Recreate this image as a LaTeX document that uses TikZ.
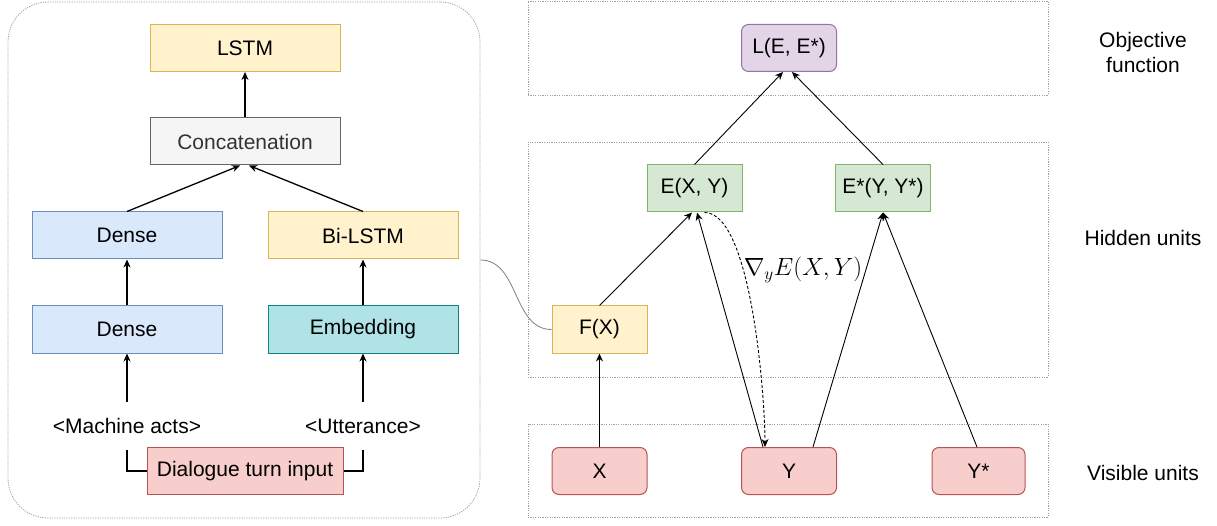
\documentclass[tikz,border=0pt]{standalone}
\usepackage[no-math]{fontspec}
\setmainfont{Liberation Sans}
\usetikzlibrary{arrows.meta}
\definecolor{yelfill}{HTML}{FFF2CC}
\definecolor{yelline}{HTML}{D6B656}
\definecolor{bluefill}{HTML}{DAE8FC}
\definecolor{blueline}{HTML}{6C8EBF}
\definecolor{greyfill}{HTML}{F5F5F5}
\definecolor{greyline}{HTML}{666666}
\definecolor{tealfill}{HTML}{B0E3E6}
\definecolor{tealline}{HTML}{0E8088}
\definecolor{redfill}{HTML}{F8CECC}
\definecolor{redline}{HTML}{B85450}
\definecolor{greenfill}{HTML}{D5E8D4}
\definecolor{greenline}{HTML}{82B366}
\definecolor{purpfill}{HTML}{E1D5E7}
\definecolor{purpline}{HTML}{9673A6}
\begin{document}
\begin{tikzpicture}[x=1pt, y=-1pt,
				>={Stealth[length=8pt,width=7pt]},   %Pfeilspitzen
				font=\fontsize{21}{25}\selectfont,
				layer/.style={draw, line width=1pt, minimum width=190pt, minimum height=47pt, inner sep=0pt},
				unit/.style={draw, line width=1pt, minimum width=95pt, minimum height=47pt, inner sep=0pt},
				panel/.style={draw=gray!75, line width=0.8pt, dash pattern=on 1.2pt off 1.2pt, inner sep=0pt},
				yel/.style={fill=yelfill, draw=yelline},
				blu/.style={fill=bluefill, draw=blueline},
				gry/.style={fill=greyfill, draw=greyline, text=black!80},
				tea/.style={fill=tealfill, draw=tealline},
				rd/.style={fill=redfill, draw=redline},
				grn/.style={fill=greenfill, draw=greenline},
				prp/.style={fill=purpfill, draw=purpline},
				thick link/.style={->, line width=1.3pt},
				thin link/.style={->, line width=0.9pt}]
				\useasboundingbox (0,0) rectangle (1217,526);
				% Encoder links
				\node[panel, rounded corners=40pt, minimum width=472pt, minimum height=516pt] (enc) at (244,260) {};
				\node[layer, yel] (lstm) at (245,48) {LSTM};
				\node[layer, gry] (conc) at (245,141.5) {Concatenation};
				\node[layer, blu] (dns2) at (127,235.5) {Dense};
				\node[layer, yel] (bilstm) at (363,235.5) {Bi-LSTM};
				\node[layer, blu] (dns1) at (127,329.5) {Dense};
				\node[layer, tea] (emb) at (363,329.5) {Embedding};
				\node[minimum height=48pt, inner sep=0pt] (acts) at (127,426) {<Machine acts>};
				\node[minimum height=48pt, inner sep=0pt] (utt) at (363,426) {<Utterance>};
				\node[layer, rd, minimum width=196pt] (dlg) at (245,471) {Dialogue turn input};
				\draw[line width=1.3pt] (dlg.west) -| (acts.south);
				\draw[line width=1.3pt] (dlg.east) -| (utt.south);
				\draw[thick link] (acts.north) -- (dns1.south);
				\draw[thick link] (utt.north) -- (emb.south);
				\draw[thick link] (dns1) -- (dns2);
				\draw[thick link] (emb) -- (bilstm);
				\draw[thick link] (dns2.north) -- ([xshift=-5pt]conc.south);
				\draw[thick link] (bilstm.north) -- ([xshift=4pt]conc.south);
				\draw[thick link] (conc) -- (lstm);
				% Ebenen rechts
				\node[panel, minimum width=520pt, minimum height=94pt] (pobj) at (788,48) {};
				\node[panel, minimum width=520pt, minimum height=235pt] (phid) at (788,259.5) {};
				\node[panel, minimum width=520pt, minimum height=93pt] (pvis) at (788,470.5) {};
				\node[align=center] (lobj) at (1143,52) {Objective\\function};
				\node (lhid) at (1143,238) {Hidden units};
				\node (lvis) at (1143,473) {Visible units};
				% Einheiten
				\node[unit, prp, rounded corners=7pt] (loss) at (789,48) {L(E, E*)};
				\node[unit, grn] (exy) at (694.5,188.5) {E(X, Y)};
				\node[unit, grn] (estar) at (883,188.5) {E*(Y, Y*)};
				\node[unit, yel] (fx) at (599.5,329.5) {F(X)};
				\node[unit, rd, rounded corners=7pt] (nx) at (599.5,471) {X};
				\node[unit, rd, rounded corners=7pt] (ny) at (789,471) {Y};
				\node[unit, rd, rounded corners=7pt, minimum width=93pt] (nys) at (978.5,471) {Y*};
				\node[font=\fontsize{24}{28}\selectfont] (grad) at (803,270) {$\nabla_y E(X,Y)$};
				% Verbindungen
				\draw[gray, line width=0.8pt] (enc.east) to[out=0, in=180] (fx.west);
				\draw[thick link] (nx) -- (fx);
				\draw[thin link] (fx.north) -- ([xshift=-2.5pt]exy.south);
				\draw[thin link] ([xshift=-26pt]ny.north) -- ([xshift=2.5pt]exy.south);
				\draw[thin link] ([xshift=24pt]ny.north) -- (estar.south);
				\draw[thin link] ([xshift=-1.5pt]nys.north) -- (estar.south);
				\draw[thin link] (exy.north) -- ([xshift=-6pt]loss.south);
				\draw[thin link] (estar.north) -- ([xshift=3pt]loss.south);
				\draw[thin link, dash pattern=on 3pt off 2pt] ([xshift=10pt]exy.south) to[out=0, in=90, looseness=0.5] ([xshift=-24pt]ny.north);
			\end{tikzpicture}
\end{document}
